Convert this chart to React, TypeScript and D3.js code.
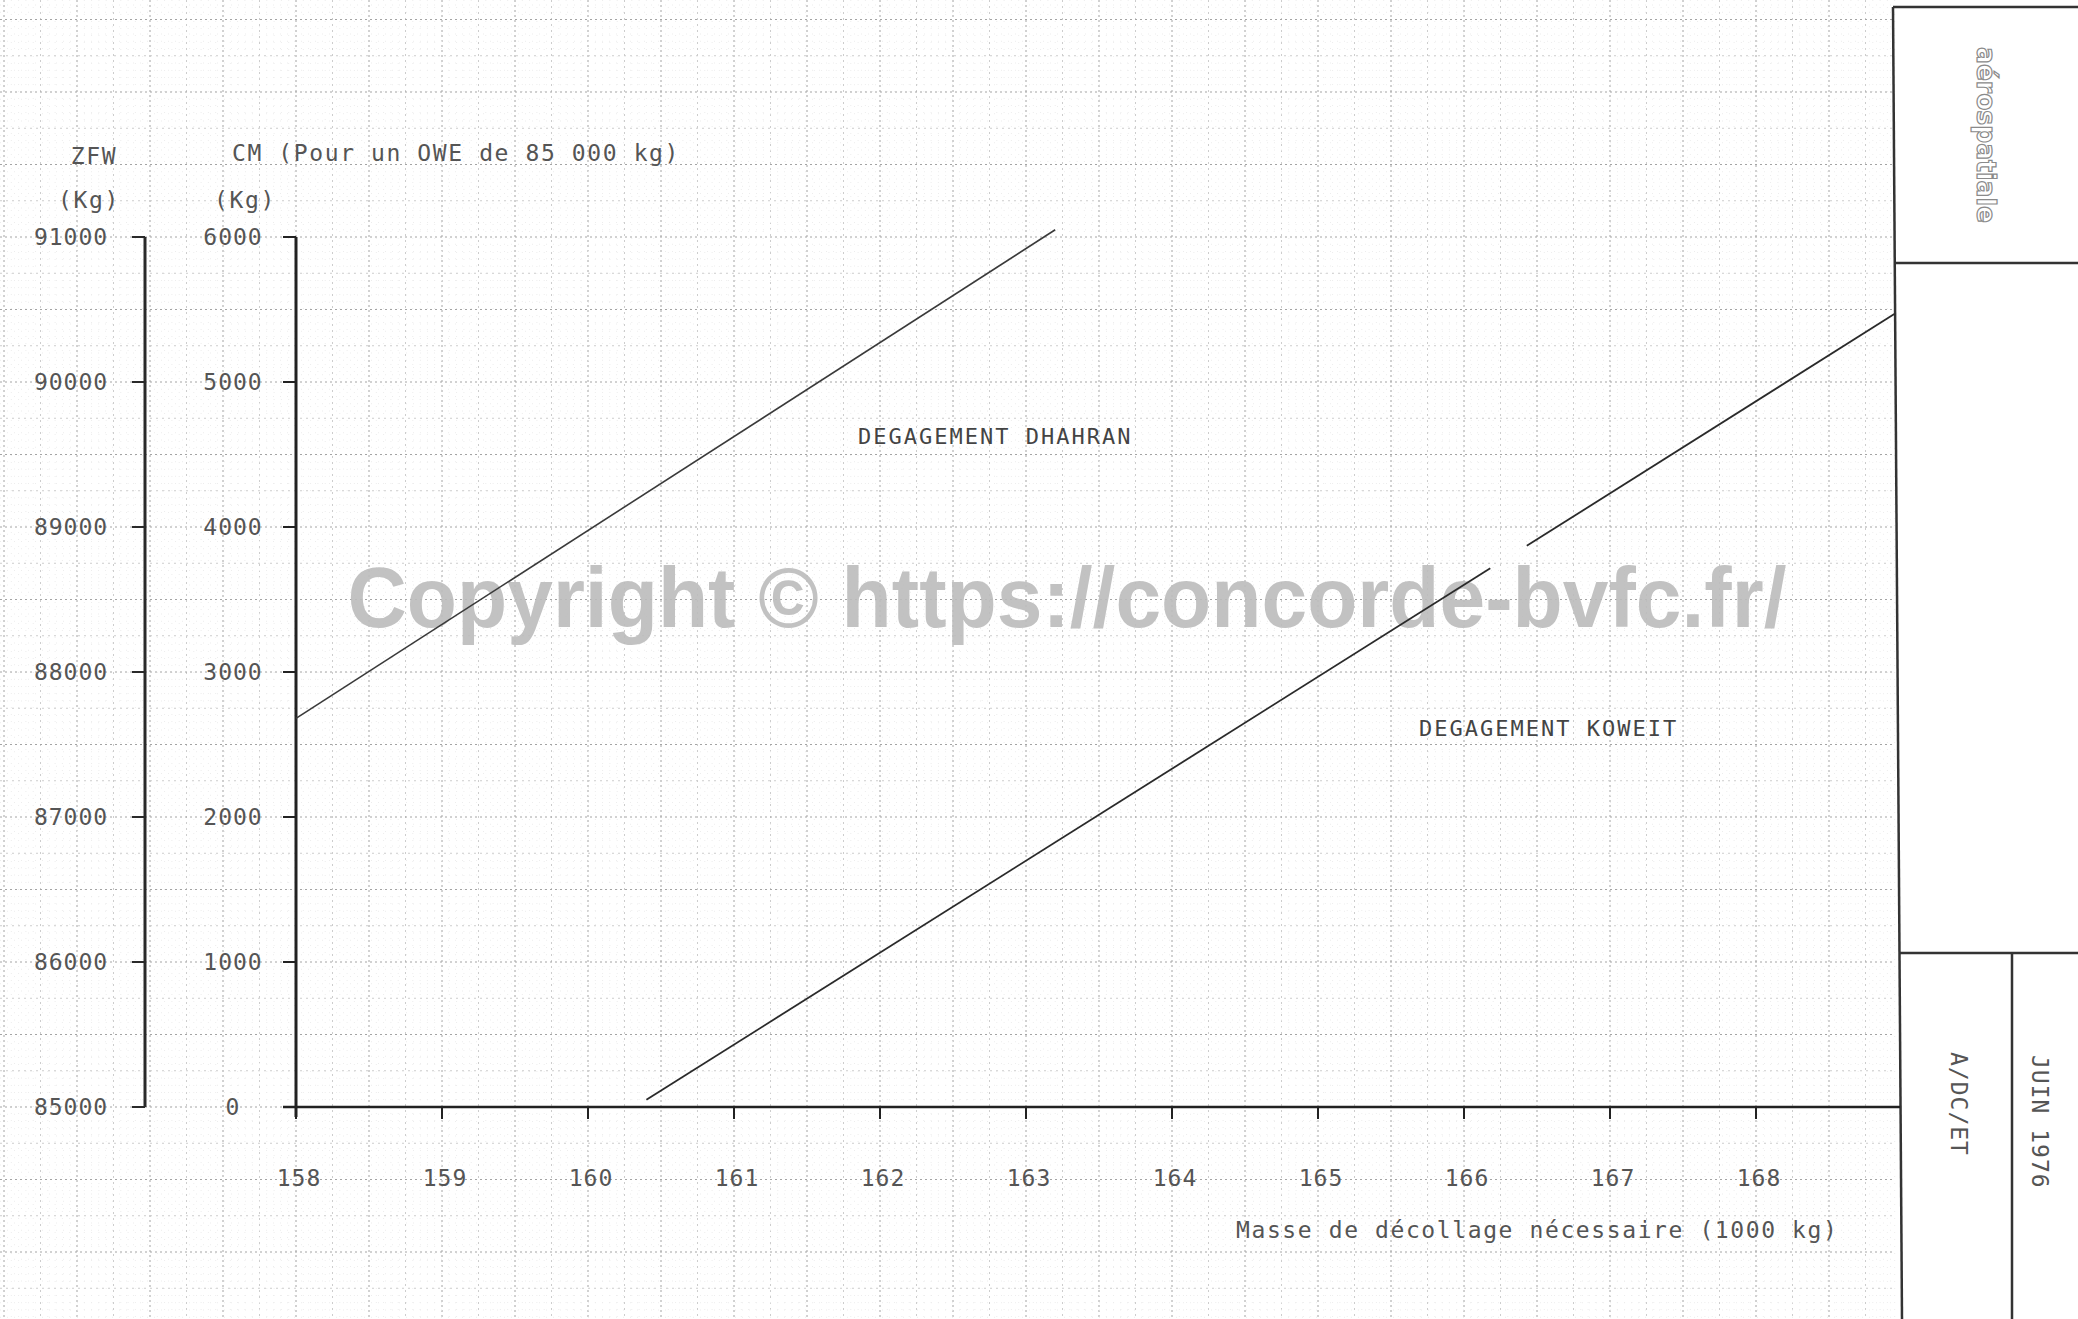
import React from "react";
import * as d3 from "d3";

const W = 2078;
const H = 1319;

// X axis: Masse de décollage nécessaire (1000 kg)
const xTicks = [158, 159, 160, 161, 162, 163, 164, 165, 166, 167, 168];
// CM axis (kg)
const cmTicks = [0, 1000, 2000, 3000, 4000, 5000, 6000];
// ZFW axis (kg)
const zfwTicks = [85000, 86000, 87000, 88000, 89000, 90000, 91000];

// Lines: [masse (1000 kg), CM (kg)]
const dhahranLine: [number, number][] = [
  [158.0, 2680],
  [163.2, 6050],
];
const koweitLineA: [number, number][] = [
  [160.4, 50],
  [166.18, 3715],
];
const koweitLineB: [number, number][] = [
  [166.43, 3870],
  [168.95, 5470],
];

const MONO = "'DejaVu Sans Mono', monospace";
const TXT = "#555";

export default function App() {
  const x = d3.scaleLinear().domain([158, 168]).range([296, 1756]);
  const y = d3.scaleLinear().domain([0, 6000]).range([1107, 237]);
  const yz = d3.scaleLinear().domain([85000, 91000]).range([1107, 237]);

  const line = d3
    .line<[number, number]>()
    .x((d) => x(d[0]))
    .y((d) => y(d[1]));

  // graph-paper grid
  const gridRight = 1895;
  const vx = d3.range(
    Math.ceil((x.invert(0) - 158) / 0.05),
    Math.floor((x.invert(gridRight) - 158) / 0.05) + 1
  );
  const hy = d3.range(
    Math.ceil(y.invert(H) / 50),
    Math.floor(y.invert(0) / 50) + 1
  );
  const gstyle = (k: number) =>
    k % 10 === 0
      ? { stroke: "#a4a4a4", dash: "2 3", w: 1 }
      : k % 5 === 0
      ? { stroke: "#cdcdcd", dash: "2 4", w: 1 }
      : { stroke: "#ededed", dash: "1 6", w: 1 };

  const tickLen = 13;
  const fs = 23;
  const ls = 1;

  return (
    <svg
      width={W}
      height={H}
      style={{ position: "absolute", left: 0, top: 0, background: "#fff" }}
    >
      <rect x={0} y={0} width={W} height={H} fill="#fff" />
      {/* grid */}
      <g>
        {vx.map((k) => {
          const s = gstyle(k);
          const px = x(158 + k * 0.05);
          return (
            <line
              key={"v" + k}
              x1={px}
              x2={px}
              y1={0}
              y2={H}
              stroke={s.stroke}
              strokeWidth={s.w}
              strokeDasharray={s.dash}
            />
          );
        })}
        {hy.map((k) => {
          const s = gstyle(k);
          const py = y(k * 50);
          return (
            <line
              key={"h" + k}
              x1={0}
              x2={gridRight}
              y1={py}
              y2={py}
              stroke={s.stroke}
              strokeWidth={s.w}
              strokeDasharray={s.dash}
            />
          );
        })}
      </g>

      {/* watermark */}
      <text
        x={1067}
        y={627}
        textAnchor="middle"
        fontFamily="'Liberation Sans', Arial, sans-serif"
        fontWeight="bold"
        fontSize={86}
        textLength={1439}
        lengthAdjust="spacingAndGlyphs"
        fill="#bcbcbc"
        opacity={0.9}
      >
        Copyright © https://concorde-bvfc.fr/
      </text>

      {/* title block */}
      <rect x={1897} y={0} width={W - 1897} height={H} fill="#fff" />
      <g stroke="#333" strokeWidth={2.5} fill="none">
        <line x1={1893} y1={7} x2={1902} y2={H} />
        <line x1={1893} y1={7} x2={W} y2={7} />
        <line x1={1894} y1={263} x2={W} y2={263} />
        <line x1={1900} y1={953} x2={W} y2={953} />
        <line x1={2012} y1={953} x2={2012} y2={H} />
      </g>
      <text
        transform="translate(1977,47) rotate(90)"
        fontFamily="'DejaVu Sans', sans-serif"
        fontWeight="bold"
        fontSize={27}
        textLength={176}
        lengthAdjust="spacingAndGlyphs"
        fill="#fff"
        stroke="#8a8a8a"
        strokeWidth={1.2}
      >
        aérospatiale
      </text>
      <text
        transform="translate(1951,1052) rotate(90)"
        fontFamily={MONO}
        fontSize={fs}
        letterSpacing={ls}
        fill={TXT}
      >
        A/DC/ET
      </text>
      <text
        transform="translate(2032,1055) rotate(90)"
        fontFamily={MONO}
        fontSize={fs}
        letterSpacing={ls}
        fill={TXT}
      >
        JUIN 1976
      </text>

      {/* ZFW axis */}
      <g stroke="#2a2a2a" strokeWidth={3} fill="none">
        <line x1={145} x2={145} y1={yz(91000)} y2={yz(85000)} />
        {zfwTicks.map((t) => (
          <line key={t} x1={145 - tickLen} x2={145} y1={yz(t)} y2={yz(t)} strokeWidth={2} />
        ))}
      </g>
      {zfwTicks.map((t) => (
        <text
          key={t}
          x={71}
          y={yz(t)}
          dy="0.36em"
          textAnchor="middle"
          fontFamily={MONO}
          fontSize={fs}
          letterSpacing={ls}
          fill={TXT}
        >
          {t}
        </text>
      ))}

      {/* CM axis */}
      <g stroke="#222" strokeWidth={3} fill="none">
        <line x1={x(158)} x2={x(158)} y1={y(6000)} y2={y(0) + 10} />
        {cmTicks.map((t) => (
          <line key={t} x1={x(158) - tickLen} x2={x(158)} y1={y(t)} y2={y(t)} strokeWidth={2} />
        ))}
      </g>
      {cmTicks.map((t) => (
        <text
          key={t}
          x={233}
          y={y(t)}
          dy="0.36em"
          textAnchor="middle"
          fontFamily={MONO}
          fontSize={fs}
          letterSpacing={ls}
          fill={TXT}
        >
          {t}
        </text>
      ))}

      {/* X axis */}
      <g stroke="#222" strokeWidth={2.6} fill="none">
        <line x1={283} x2={1900} y1={y(0)} y2={y(0)} />
        {xTicks.map((t) => (
          <line key={t} x1={x(t)} x2={x(t)} y1={y(0)} y2={y(0) + 12} strokeWidth={2} />
        ))}
      </g>
      {xTicks.map((t) => (
        <text
          key={t}
          x={x(t) + 3}
          y={1178}
          dy="0.36em"
          textAnchor="middle"
          fontFamily={MONO}
          fontSize={fs}
          letterSpacing={ls}
          fill={TXT}
        >
          {t}
        </text>
      ))}

      {/* axis titles */}
      <g fontFamily={MONO} fontSize={fs} letterSpacing={1.6} fill={TXT}>
        <text x={94} y={156} dy="0.36em" textAnchor="middle">ZFW</text>
        <text x={89} y={200} dy="0.36em" textAnchor="middle">(Kg)</text>
        <text x={232} y={153} dy="0.36em">CM (Pour un OWE de 85 000 kg)</text>
        <text x={245} y={200} dy="0.36em" textAnchor="middle">(Kg)</text>
        <text x={1236} y={1230} dy="0.36em">Masse de décollage nécessaire (1000 kg)</text>
      </g>

      {/* data lines */}
      <path d={line(dhahranLine) || ""} fill="none" stroke="#3a3a3a" strokeWidth={1.6} />
      <path d={line(koweitLineA) || ""} fill="none" stroke="#2a2a2a" strokeWidth={1.8} />
      <path d={line(koweitLineB) || ""} fill="none" stroke="#2a2a2a" strokeWidth={1.8} />

      {/* line labels */}
      <g fontFamily={MONO} fontSize={22} letterSpacing={2} fill="#444">
        <text x={858} y={436} dy="0.36em">DEGAGEMENT DHAHRAN</text>
        <text x={1419} y={728} dy="0.36em">DEGAGEMENT KOWEIT</text>
      </g>
    </svg>
  );
}
